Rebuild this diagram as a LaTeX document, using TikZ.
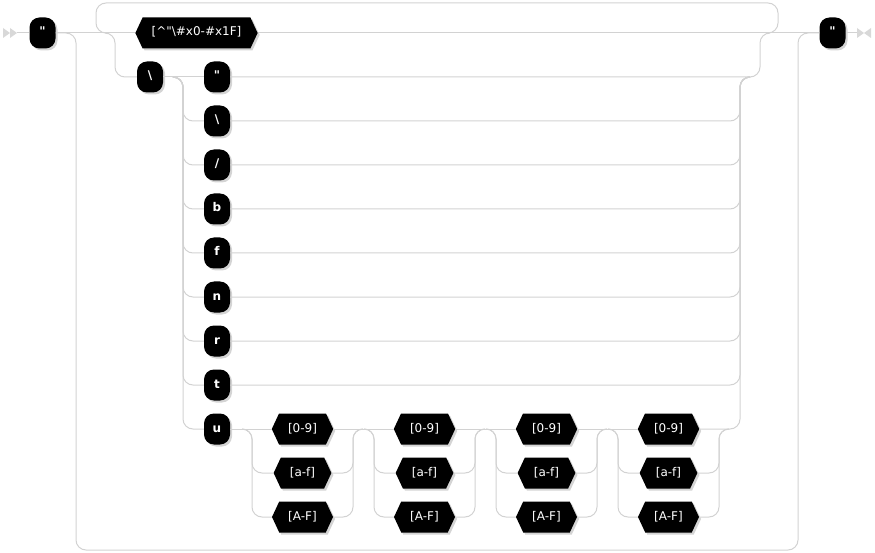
\documentclass[tikz,border=0pt]{standalone}
\usepackage{fontspec}
\newfontfamily\rrfont{DejaVu Sans}
\usetikzlibrary{shapes.symbols,shadows}
\definecolor{rrline}{HTML}{D2D2D2}
\definecolor{rrshadow}{HTML}{D4D4D4}
\definecolor{rrmark}{HTML}{D8D8D8}
\begin{document}
\begin{tikzpicture}[x=1pt,y=-1pt,
  conn/.style={draw=rrline,line width=1pt,rounded corners=10pt},
  rrshad/.style={drop shadow={shadow xshift=2pt,shadow yshift=-2pt,opacity=1,fill=rrshadow}},
  term/.style={rectangle,rounded corners=10pt,fill=black,text=white,
    font=\rrfont\fontsize{12}{14}\selectfont\bfseries,minimum width=26pt,minimum height=31pt,
    inner sep=0pt,text height=9pt,text depth=3pt,rrshad},
  cls/.style={signal,signal to=west and east,signal pointer angle=130,fill=black,text=white,
    font=\rrfont\fontsize{12}{14}\selectfont,minimum height=31pt,inner xsep=9pt,inner ysep=0pt,
    text height=9pt,text depth=3pt,rrshad},
  endmk/.style={fill=rrmark}]
\useasboundingbox (0,0) rectangle (875,553);
% start and end markers
\fill[endmk] (3,28) -- (10,33) -- (3,38) -- cycle;
\fill[endmk] (10,28) -- (17,33) -- (10,38) -- cycle;
\fill[endmk] (857,28) -- (864,33) -- (857,38) -- cycle;
\fill[endmk] (871,28) -- (864,33) -- (871,38) -- cycle;
\coordinate (start) at (17,33);
\coordinate (stop) at (857,33);
% nodes
\node[term] (q1) at (42.5,33) {"};
\node[term] (q2) at (832.5,33) {"};
\node[cls] (ch) at (196.5,33) {[\textasciicircum"\textbackslash\#x0-\#x1F]};
\node[term] (bs) at (150,77) {\textbackslash};
\foreach \t [count=\k] in {{"},{\textbackslash},/,b,f,n,r,t,u}
  \node[term] (e\k) at (217,{33+44*\k}) {\t};
\foreach \g in {0,...,3}{
  \node[cls] (d\g) at ({302.5+122*\g},429) {[0-9]};
  \node[cls] (l\g) at ({302.5+122*\g},473) {[a-f]};
  \node[cls] (u\g) at ({302.5+122*\g},517) {[A-F]};
}
% main line
\draw[conn] (start) -- (q1.west);
\draw[conn] (q2.east) -- (stop);
\draw[conn] (q1.east) -- (ch.west);
\draw[conn] (ch.east) -- (q2.west);
% skip path (zero repetitions)
\draw[conn] (q1.east) -- (76,33) -- (76,550) -- (798,550) -- (798,33) -- (q2.west);
% loop back
\draw[conn] (106,33) -- (96,33) -- (96,3) -- (778,3) -- (778,33) -- (768,33);
% escape branch
\draw[conn] (105,33) -- (115,33) -- (115,77) -- (bs.west);
\draw[conn] (bs.east) -- (e1.west);
\draw[conn] (e1.east) -- (760,77) -- (760,33) -- (770,33);
\foreach \k in {2,...,9}
  \draw[conn] (173,77) -- (183,77) -- (183,{33+44*\k}) -- (e\k.west);
\foreach \k in {2,...,8}
  \draw[conn] (e\k.east) -- (740,{33+44*\k}) -- (740,77) -- (750,77);
% hex digits
\draw[conn] (e9.east) -- (d0.west);
\draw[conn] (d0.east) -- (d1.west);
\draw[conn] (d1.east) -- (d2.west);
\draw[conn] (d2.east) -- (d3.west);
\draw[conn] (d3.east) -- (740,429) -- (740,77) -- (750,77);
\foreach \g in {0,...,3}{
  \draw[conn] ({242+122*\g},429) -- ({252+122*\g},429) -- ({252+122*\g},473) -- (l\g.west);
  \draw[conn] ({242+122*\g},429) -- ({252+122*\g},429) -- ({252+122*\g},517) -- (u\g.west);
  \draw[conn] (l\g.east) -- ({353+122*\g},473) -- ({353+122*\g},429) -- ({363+122*\g},429);
  \draw[conn] (u\g.east) -- ({353+122*\g},517) -- ({353+122*\g},429) -- ({363+122*\g},429);
}
\end{tikzpicture}
\end{document}
